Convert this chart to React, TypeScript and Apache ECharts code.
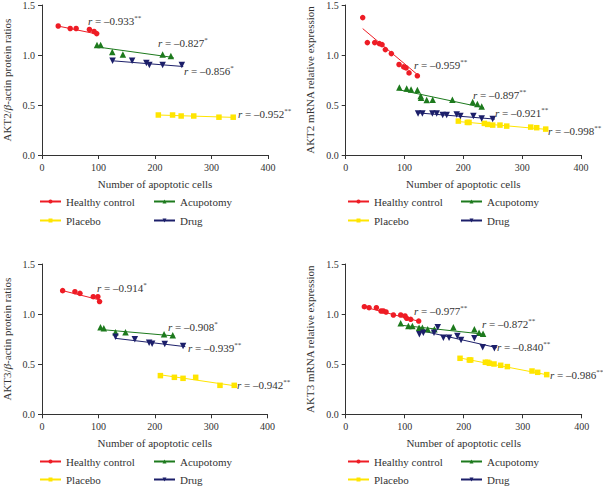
import React, { useEffect, useRef } from "react";
import * as echarts from "echarts";

// ---------- data (x = number of apoptotic cells, y = expression) ----------
const groups = ["Healthy control", "Acupotomy", "Placebo", "Drug"];
const xTicks = [0, 100, 200, 300, 400];
const yTicks = [0, 0.5, 1.0, 1.5];

// Panel A: AKT2/β-actin protein ratios
const a_healthy = [[28.7, 1.29], [49.9, 1.265], [60.4, 1.265], [83.9, 1.255], [92.1, 1.235], [96.8, 1.214]];
const a_acupotomy = [[97.4, 1.10], [103.8, 1.10], [124.3, 1.031], [143.1, 1.004], [213.5, 1.004], [228.1, 0.991]];
const a_placebo = [[205.9, 0.40], [231.1, 0.40], [246.3, 0.39], [268.6, 0.39], [313.2, 0.378], [338.4, 0.378]];
const a_drug = [[124.9, 0.942], [159.5, 0.942], [184.7, 0.92], [190.0, 0.90], [213.5, 0.90], [247.5, 0.90]];
const a_fits = [
  [[28, 1.29], [97, 1.21]],
  [[97, 1.081], [232.8, 0.975]],
  [[206, 0.40], [340, 0.376]],
  [[125, 0.942], [250, 0.885]],
];
const a_r = ["–0.933", "–0.827", "–0.952", "–0.856"];
const a_sig = ["**", "*", "**", "*"];

// Panel B: AKT2 mRNA relative expression
const b_healthy = [[28.9, 1.374], [36.8, 1.124], [49.3, 1.124], [57.2, 1.114], [61.8, 1.104], [67.4, 1.054], [77.6, 1.014], [90.7, 0.905], [98.6, 0.881], [102.6, 0.871], [107.7, 0.821], [121.8, 0.792]];
const b_acupotomy = [[91.2, 0.675], [103.7, 0.665], [111.1, 0.655], [121.8, 0.649], [127.5, 0.589], [128.1, 0.572], [137.7, 0.549], [147.9, 0.552], [181.3, 0.552], [215.9, 0.529], [223.8, 0.509], [231.2, 0.486]];
const b_placebo = [[191.5, 0.339], [206.8, 0.326], [209.6, 0.326], [235.7, 0.316], [241.4, 0.306], [249.9, 0.299], [262.3, 0.299], [273.7, 0.289], [314.5, 0.279], [324.7, 0.273], [340.0, 0.259]];
const b_drug = [[123.0, 0.416], [130.3, 0.416], [147.3, 0.416], [154.7, 0.416], [164.9, 0.399], [171.7, 0.399], [188.7, 0.406], [194.9, 0.389], [217.0, 0.389], [231.2, 0.366], [249.9, 0.359]];
const b_fits = [
  [[28.9, 1.264], [126.4, 0.782]],
  [[88.4, 0.655], [235.1, 0.472]],
  [[188.7, 0.336], [341.7, 0.256]],
  [[120.7, 0.422], [253.8, 0.359]],
];
const b_r = ["–0.959", "–0.897", "–0.998", "–0.921"];
const b_sig = ["**", "**", "**", "**"];

// Panel C: AKT3/β-actin protein ratios
const c_healthy = [[36.6, 1.234], [58.4, 1.224], [67.3, 1.207], [90.9, 1.174], [99.1, 1.174], [102.1, 1.125]];
const c_acupotomy = [[103.8, 0.868], [109.7, 0.858], [130.4, 0.818], [148.1, 0.818], [216.5, 0.798], [231.9, 0.788]];
const c_placebo = [[210.0, 0.386], [234.8, 0.369], [250.2, 0.359], [272.6, 0.369], [315.7, 0.289], [341.0, 0.289]];
const c_drug = [[130.4, 0.775], [164.6, 0.748], [190.0, 0.715], [195.3, 0.705], [217.7, 0.702], [250.2, 0.682]];
const c_fits = [
  [[36.6, 1.234], [102.7, 1.141]],
  [[100.9, 0.848], [234.8, 0.782]],
  [[207.7, 0.396], [344.0, 0.283]],
  [[130.4, 0.758], [254.3, 0.675]],
];
const c_r = ["–0.914", "–0.908", "–0.942", "–0.939"];
const c_sig = ["*", "*", "**", "**"];

// Panel D: AKT3 mRNA relative expression
const d_healthy = [[31.6, 1.074], [39.6, 1.064], [52.0, 1.064], [59.9, 1.031], [63.8, 1.031], [68.4, 1.021], [80.8, 0.991], [93.2, 0.991], [100.6, 0.981], [103.4, 0.958], [110.2, 0.948], [123.7, 0.931]];
const d_acupotomy = [[93.2, 0.908], [106.2, 0.881], [113.0, 0.881], [124.3, 0.865], [130.0, 0.865], [139.0, 0.848], [150.3, 0.848], [182.5, 0.868], [218.1, 0.848], [226.0, 0.815], [232.8, 0.805]];
const d_placebo = [[193.8, 0.559], [209.6, 0.542], [211.9, 0.542], [236.7, 0.519], [240.7, 0.519], [243.5, 0.509], [251.4, 0.502], [262.7, 0.489], [274.0, 0.476], [315.8, 0.432], [325.4, 0.419], [340.7, 0.396]];
const d_drug = [[124.9, 0.798], [131.6, 0.815], [149.7, 0.815], [156.0, 0.868], [165.6, 0.765], [175.2, 0.765], [189.3, 0.782], [195.5, 0.742], [218.1, 0.758], [232.2, 0.669], [252.0, 0.659]];
const d_fits = [
  [[29.9, 1.074], [126.0, 0.925]],
  [[90.4, 0.891], [236.2, 0.798]],
  [[191.0, 0.565], [343.5, 0.392]],
  [[123.2, 0.841], [256.0, 0.665]],
];
const d_r = ["–0.977", "–0.872", "–0.986", "–0.840"];
const d_sig = ["**", "**", "**", "**"];

const yNames = [
  "AKT2/{b|β}-actin protein ratios",
  "AKT2 mRNA relative expression",
  "AKT3/{b|β}-actin protein ratios",
  "AKT3 mRNA relative expression",
];
const xName = "Number of apoptotic cells";

// ---------- styling ----------
const FONT = "Liberation Serif";
const TXT = "#333";
const colors = ["#ee1c25", "#1d7a1d", "#ffe500", "#1c1f6a"];
const symbols = ["circle", "triangle", "rect", "triangle"];
const rotates = [0, 0, 0, 180];
const sizes = [5.5, 6.5, 5.5, 6.5];

const grids = [
  { left: 41, top: 4.7, width: 227, height: 150.3 },
  { left: 345.7, top: 4.7, width: 235.3, height: 150.3 },
  { left: 41, top: 264, width: 226.5, height: 150.3 },
  { left: 345.7, top: 264, width: 236, height: 150.3 },
];
const yNameGaps = [30, 30, 30, 30];
// annotation anchors per panel, in group order [healthy, acupotomy, placebo, drug]
const annotPos = [
  [[88, 21], [158, 43], [238, 114], [184, 71]],
  [[414, 65], [473, 95], [548, 131], [495, 113]],
  [[97, 288], [168, 327], [237, 385], [188, 348]],
  [[414, 311], [482, 324], [550, 375], [497, 347]],
];
const legendCols = [[39, 153], [347, 460]];
const legendRows = [[203, 222], [463, 481]];

export default function App() {
  const ref = useRef<HTMLDivElement>(null);
  useEffect(() => {
    if (!ref.current) return;
    const chart = echarts.init(ref.current, undefined, { renderer: "svg" });
    const panels = [
      { pts: [a_healthy, a_acupotomy, a_placebo, a_drug], fits: a_fits, r: a_r, sig: a_sig },
      { pts: [b_healthy, b_acupotomy, b_placebo, b_drug], fits: b_fits, r: b_r, sig: b_sig },
      { pts: [c_healthy, c_acupotomy, c_placebo, c_drug], fits: c_fits, r: c_r, sig: c_sig },
      { pts: [d_healthy, d_acupotomy, d_placebo, d_drug], fits: d_fits, r: d_r, sig: d_sig },
    ];
    const axisCommon = {
      axisLine: { show: true, lineStyle: { color: TXT, width: 1 } },
      axisTick: { show: true, length: 4, inside: false, lineStyle: { color: TXT } },
      splitLine: { show: false },
      axisLabel: { fontFamily: FONT, fontSize: 10, color: TXT, margin: 7 },
    };
    const xAxis = grids.map((_, i) => ({
      ...axisCommon,
      type: "value",
      gridIndex: i,
      min: xTicks[0],
      max: xTicks[xTicks.length - 1],
      interval: xTicks[1] - xTicks[0],
      name: xName,
      nameLocation: "middle",
      nameGap: 23,
      nameTextStyle: { fontFamily: FONT, fontSize: 11, fontWeight: "normal", color: TXT },
    }));
    const yAxis = grids.map((_, i) => ({
      ...axisCommon,
      type: "value",
      gridIndex: i,
      min: yTicks[0],
      max: yTicks[yTicks.length - 1],
      interval: yTicks[1] - yTicks[0],
      axisLabel: { ...axisCommon.axisLabel, formatter: (v: number) => v.toFixed(1) },
      name: yNames[i],
      nameLocation: "middle",
      nameGap: yNameGaps[i],
      nameTextStyle: {
        fontFamily: FONT,
        fontSize: 11,
        fontWeight: "normal",
        color: TXT,
        rich: { b: { fontFamily: FONT, fontSize: 11, fontStyle: "italic", color: TXT } },
      },
    }));
    const series: any[] = [];
    panels.forEach((p, pi) => {
      p.pts.forEach((pts, gi) => {
        series.push({
          type: "line",
          name: "fit" + pi + gi,
          xAxisIndex: pi,
          yAxisIndex: pi,
          data: p.fits[gi],
          showSymbol: false,
          symbol: "none",
          lineStyle: { color: colors[gi], width: 1 },
          silent: true,
          z: 2,
        });
        series.push({
          type: "scatter",
          name: "pts" + pi + gi,
          xAxisIndex: pi,
          yAxisIndex: pi,
          data: pts,
          symbol: symbols[gi],
          symbolRotate: rotates[gi],
          symbolSize: sizes[gi],
          itemStyle: { color: colors[gi], opacity: 1 },
          z: 3,
        });
      });
    });
    // legend carrier series
    groups.forEach((g, gi) => {
      series.push({
        type: "line",
        name: g,
        xAxisIndex: 0,
        yAxisIndex: 0,
        data: [],
        symbol: symbols[gi],
        symbolRotate: rotates[gi],
        symbolSize: 5,
        itemStyle: { color: colors[gi] },
        lineStyle: { color: colors[gi], width: 1 },
      });
    });
    const legend: any[] = [];
    const order = [[0, 1], [2, 3]];
    legendRows.forEach((rows) => {
      legendCols.forEach((cols) => {
        order.forEach((rowGroups, ri) => {
          rowGroups.forEach((gi, ci) => {
            legend.push({
              data: [groups[gi]],
              left: cols[ci],
              top: rows[ri] - 7,
              padding: 0,
              itemWidth: 21,
              itemHeight: 5,
              symbolRotate: "inherit",
              selectedMode: false,
              textStyle: { fontFamily: FONT, fontSize: 11, fontWeight: "normal", color: TXT },
            });
          });
        });
      });
    });
    const graphic: any[] = [];
    panels.forEach((p, pi) => {
      p.r.forEach((rv, gi) => {
        const [x, y] = annotPos[pi][gi];
        graphic.push({
          type: "text",
          x,
          y,
          silent: true,
          style: {
            text: "{i|r} = " + rv + "{s|" + p.sig[gi] + "}",
            fontFamily: FONT,
            fontSize: 11,
            fill: TXT,
            verticalAlign: "middle",
            rich: {
              i: { fontFamily: FONT, fontSize: 11, fontStyle: "italic", fill: TXT, color: TXT },
              s: { fontFamily: FONT, fontSize: 7, fill: TXT, color: TXT, padding: [0, 0, 6, 0] },
            },
          },
        });
      });
    });
    chart.setOption({
      animation: false,
      backgroundColor: "#fff",
      textStyle: { fontFamily: FONT },
      grid: grids,
      xAxis,
      yAxis,
      series,
      legend,
      graphic,
    });
    return () => chart.dispose();
  }, []);
  return (
    <div
      ref={ref}
      style={{ position: "fixed", left: 0, top: 0, width: 603, height: 487, background: "#fff" }}
    />
  );
}
